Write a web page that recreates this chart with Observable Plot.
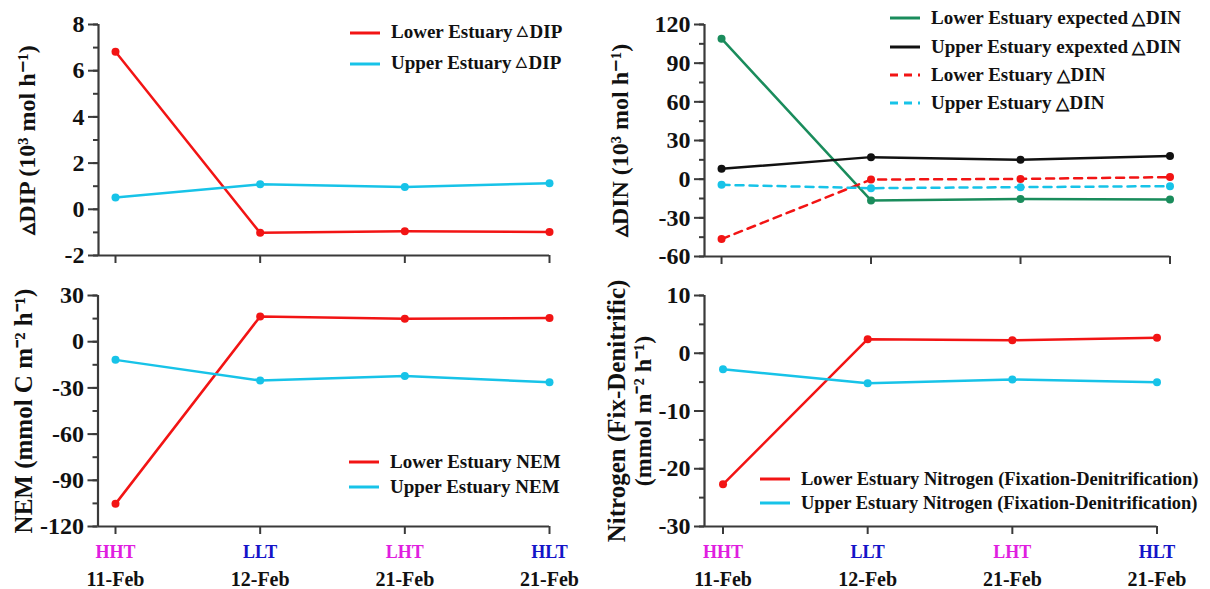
<!DOCTYPE html>
<html><head><meta charset="utf-8">
<script src="https://cdn.jsdelivr.net/npm/d3@7"></script>
<script src="https://cdn.jsdelivr.net/npm/@observablehq/plot@0.6"></script>
<style>
body{margin:0;background:#fff;}
#root{position:relative;width:1210px;height:589px;overflow:hidden;font-family:"Liberation Serif","Times New Roman",serif;font-weight:bold;color:#111;}
.panel{position:absolute;}
.row{position:absolute;white-space:nowrap;display:flex;align-items:center;height:22px;font-size:19px;line-height:22px;}
.row.small{font-size:18.5px;}
.row svg{margin-right:11px;flex:none;}
.tri{font-size:14px;margin:0 2px 0 4px;position:relative;top:-3px;}
.tri2{font-size:17px;margin:0 1px 0 4px;}
</style></head><body><div id="root"></div>
<script>
const cats = ["HHT", "LLT", "LHT", "HLT"];
const dates = ["11-Feb", "12-Feb", "21-Feb", "21-Feb"];
const catColors = ["#e01ee0", "#1414c8", "#e01ee0", "#1414c8"];

const dipLower = [6.82, -1.02, -0.95, -0.98];
const dipUpper = [0.51, 1.08, 0.96, 1.13];

const dinLowerExpected = [109, -16.5, -15.3, -15.8];
const dinUpperExpected = [8, 17.1, 15, 17.9];
const dinLower = [-46.5, -0.3, 0.2, 1.6];
const dinUpper = [-4.4, -7, -6.2, -5.4];

const nemLower = [-105.3, 16.4, 14.9, 15.4];
const nemUpper = [-11.8, -25.2, -22.2, -26.3];

const nitLower = [-22.7, 2.43, 2.26, 2.67];
const nitUpper = [-2.76, -5.19, -4.55, -5.01];

const RED = "#f21414", CYAN = "#17c3e8", GREEN = "#1a8c5c", BLACK = "#111111";
const AX = "#3a3a3a";
const FONT = '"Liberation Serif","Times New Roman",serif';

function makePanel(cfg) {
  const idx = cats.map((c, i) => i);
  const yMin = cfg.yDomain[0];
  const marks = [
    Plot.axisY(cfg.minor, {tickSize: 5, tickFormat: () => "", stroke: AX, strokeWidth: 2, label: null}),
    Plot.axisY(cfg.major, {tickSize: 10, tickPadding: 4, fontSize: 24, tickFormat: d => String(d), stroke: AX, strokeWidth: 2, label: null, fill: "#111"}),
    Plot.axisX(idx, {tickSize: 8, tickFormat: () => "", stroke: AX, strokeWidth: 2, label: null}),
    Plot.ruleX([-cfg.pad], {stroke: AX, strokeWidth: 2.2}),
    Plot.ruleY([yMin], {stroke: AX, strokeWidth: 2.2})
  ];
  cfg.titles.forEach(t => {
    marks.push(Plot.text([t.text], {text: d => d, frameAnchor: "left", textAnchor: "middle", rotate: -90, dx: t.dx, dy: t.dy || 0, fontSize: t.size || 24, fontWeight: "bold", fill: "#111"}));
  });
  cfg.series.forEach(s => {
    const d = s.values.map((v, i) => ({i, v}));
    marks.push(Plot.line(d, {x: "i", y: "v", stroke: s.color, strokeWidth: 2.5, strokeDasharray: s.dash || null}));
    marks.push(Plot.dot(d, {x: "i", y: "v", r: 4, fill: s.color}));
  });
  if (cfg.labels) {
    marks.push(Plot.text(idx, {x: d => d, text: d => cats[d], frameAnchor: "bottom", dy: 31, fontSize: 18, fontWeight: "bold", fill: d => catColors[d]}));
    marks.push(Plot.text(idx, {x: d => d, text: d => dates[d], frameAnchor: "bottom", dy: 59, fontSize: 20, fontWeight: "bold", fill: "#111"}));
  }
  const svg = Plot.plot({
    width: cfg.width, height: cfg.height,
    marginLeft: cfg.ml, marginRight: cfg.mr, marginTop: cfg.mt, marginBottom: cfg.mb,
    x: {domain: [-cfg.pad, cats.length - 1]},
    y: {domain: cfg.yDomain},
    style: {fontFamily: FONT, fontWeight: "bold", background: "transparent", overflow: "visible", color: "#111"},
    marks
  });
  const div = document.createElement("div");
  div.className = "panel";
  div.style.left = cfg.left + "px";
  div.style.top = cfg.top + "px";
  div.appendChild(svg);
  document.getElementById("root").appendChild(div);
}

function swatch(color, dash) {
  return `<svg width="30" height="6"><line x1="0" y1="3" x2="30" y2="3" stroke="${color}" stroke-width="3" ${dash ? `stroke-dasharray="${dash}"` : ""}/></svg>`;
}
function legendRow(left, cy, color, dash, html, cls) {
  const r = document.createElement("div");
  r.className = "row" + (cls ? " " + cls : "");
  r.style.left = left + "px";
  r.style.top = (cy - 11) + "px";
  r.innerHTML = swatch(color, dash) + "<span>" + html + "</span>";
  document.getElementById("root").appendChild(r);
}

// Panel 1: ΔDIP
makePanel({
  left: 0, top: 0, width: 605, height: 280, ml: 98, mr: 56, mt: 24, mb: 25, pad: 0.1175,
  yDomain: [-2, 8], major: [-2, 0, 2, 4, 6, 8], minor: d3.range(-2, 8.01, 1),
  titles: [{text: "▵DIP (10³ mol h⁻¹)", dx: -71}],
  series: [{values: dipLower, color: RED}, {values: dipUpper, color: CYAN}]
});
// Panel 2: ΔDIN
makePanel({
  left: 605, top: 0, width: 605, height: 280, ml: 99, mr: 40.5, mt: 24, mb: 24, pad: 0.114,
  yDomain: [-60, 120], major: d3.range(-60, 121, 30), minor: d3.range(-60, 121, 15),
  titles: [{text: "▵DIN (10³ mol h⁻¹)", dx: -84}],
  series: [
    {values: dinLowerExpected, color: GREEN},
    {values: dinUpperExpected, color: BLACK},
    {values: dinLower, color: RED, dash: "8,6"},
    {values: dinUpper, color: CYAN, dash: "8,6"}
  ]
});
// Panel 3: NEM
makePanel({
  left: 0, top: 270, width: 605, height: 319, ml: 97.5, mr: 56, mt: 25, mb: 63, pad: 0.121,
  yDomain: [-120, 30], major: d3.range(-120, 31, 30), minor: d3.range(-120, 31, 15),
  titles: [{text: "NEM (mmol C m⁻² h⁻¹)", dx: -74, size: 25}],
  series: [{values: nemLower, color: RED}, {values: nemUpper, color: CYAN}],
  labels: true
});
// Panel 4: Nitrogen
makePanel({
  left: 605, top: 270, width: 605, height: 319, ml: 99, mr: 53.5, mt: 25, mb: 63, pad: 0.128,
  yDomain: [-30, 10], major: d3.range(-30, 11, 10), minor: d3.range(-30, 11, 5),
  titles: [{text: "Nitrogen (Fix-Denitrific)", dx: -88, size: 25}, {text: "(mmol m⁻² h⁻¹)", dx: -61}],
  series: [{values: nitLower, color: RED}, {values: nitUpper, color: CYAN}],
  labels: true
});

// Legends
legendRow(350, 33, RED, null, 'Lower Estuary<span class="tri">△</span>DIP');
legendRow(350, 64, CYAN, null, 'Upper Estuary<span class="tri">△</span>DIP');

legendRow(890, 18, GREEN, null, 'Lower Estuary expected<span class="tri2">△</span>DIN');
legendRow(890, 47, BLACK, null, 'Upper Estuary expexted<span class="tri2">△</span>DIN');
legendRow(890, 75, RED, "8,6", 'Lower Estuary<span class="tri2">△</span>DIN');
legendRow(890, 103, CYAN, "8,6", 'Upper Estuary<span class="tri2">△</span>DIN');

legendRow(349, 462, RED, null, 'Lower Estuary NEM');
legendRow(349, 487, CYAN, null, 'Upper Estuary NEM');

legendRow(760, 479, RED, null, 'Lower Estuary Nitrogen (Fixation-Denitrification)', "small");
legendRow(760, 503, CYAN, null, 'Upper Estuary Nitrogen (Fixation-Denitrification)', "small");
</script></body></html>
